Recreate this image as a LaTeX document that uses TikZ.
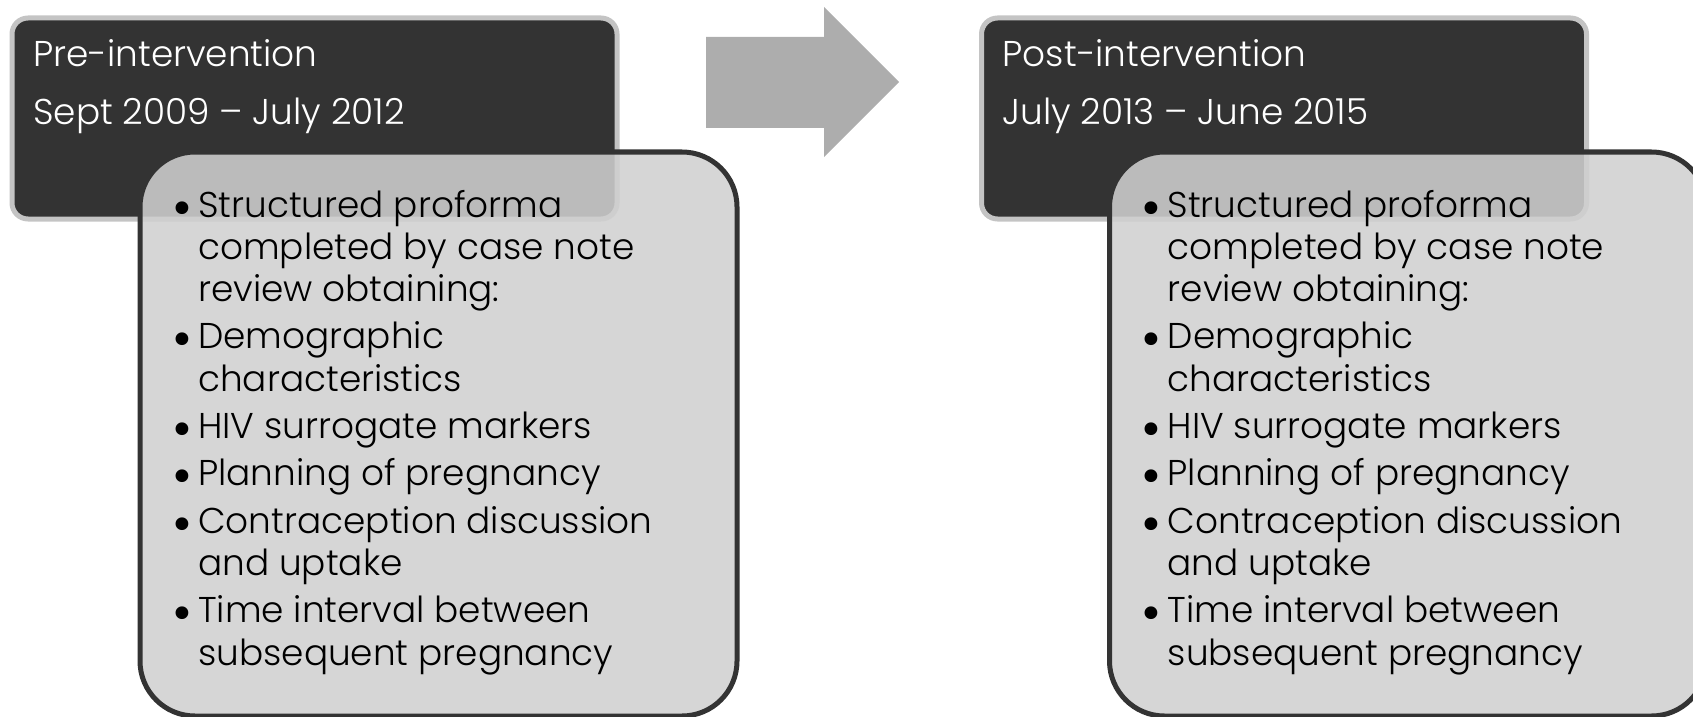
\documentclass[tikz,border=0pt]{standalone}
\usepackage{fontspec}
\setmainfont{Poppins Light}
\newfontfamily\bodyfont{Poppins Light}
\newfontfamily\bulletfont{DejaVu Sans}
\definecolor{darkfill}{HTML}{333333}
\definecolor{edgegray}{HTML}{C4C4C4}
\definecolor{lightfill}{HTML}{D0D0D0}
\definecolor{arrowgray}{HTML}{ADADAD}
\newcommand\bulletlist[2]{%
  \foreach \t/\y/\b [count=\i] in {Structured proforma/217/1,completed by case note/259.3/0,review obtaining:/301.6/0,Demographic/348.9/1,characteristics/391.2/0,HIV surrogate markers/438.5/1,Planning of pregnancy/485.8/1,Contraception discussion/533.1/1,and uptake/575.4/0,Time interval between/622.7/1,subsequent pregnancy/665/0}{%
    \node[bodytext] (#1l\i) at (#2+198,\y) {\t};
    \ifnum\b=1 \node[bul] (#1b\i) at (#2+182,\y+7) {\textbullet};\fi
  }%
}
\begin{document}
\begin{tikzpicture}[x=1bp,y=-1bp,
  darkbox/.style={draw=edgegray, line width=5bp, fill=darkfill, rounded corners=16bp, anchor=north west, inner sep=0pt},
  lightbox/.style={draw=darkfill, line width=5bp, fill=lightfill, fill opacity=0.87, draw opacity=1, rounded corners=55bp, anchor=north west, inner sep=0pt},
  titletext/.style={anchor=base west, inner sep=0pt, text=white, font=\bodyfont\fontsize{36}{40}\selectfont},
  bodytext/.style={anchor=base west, inner sep=0pt, text=black, font=\bodyfont\fontsize{36}{40}\selectfont},
  bul/.style={anchor=base, inner sep=0pt, text=black, font=\bulletfont\fontsize{44}{44}\selectfont},
  arrowfill/.style={fill=arrowgray}]
\useasboundingbox (0,0) rectangle (1693,717);
\clip (0,0) rectangle (1693,717);
% left group
\node[darkbox, minimum width=605bp, minimum height=201bp] (predark) at (9.5,15.5) {};
\node[titletext] (pret1) at (33,67) {Pre-intervention};
\node[titletext] (pret2) at (33,125) {Sept 2009 – July 2012};
\node[lightbox, minimum width=597bp, minimum height=564bp] (prelight) at (137.5,149.5) {};
\bulletlist{pre}{0}
% arrow
\fill[arrowfill] (706,37) -- (824,37) -- (824,7) -- (899,82) -- (824,157) -- (824,128) -- (706,128) -- cycle;
% right group
\node[darkbox, minimum width=605bp, minimum height=201bp] (postdark) at (979,15.5) {};
\node[titletext] (postt1) at (1002.5,67) {Post-intervention};
\node[titletext] (postt2) at (1002.5,125) {July 2013 – June 2015};
\node[lightbox, minimum width=597bp, minimum height=564bp] (postlight) at (1107,149.5) {};
\bulletlist{post}{969.5}
\end{tikzpicture}
\end{document}
